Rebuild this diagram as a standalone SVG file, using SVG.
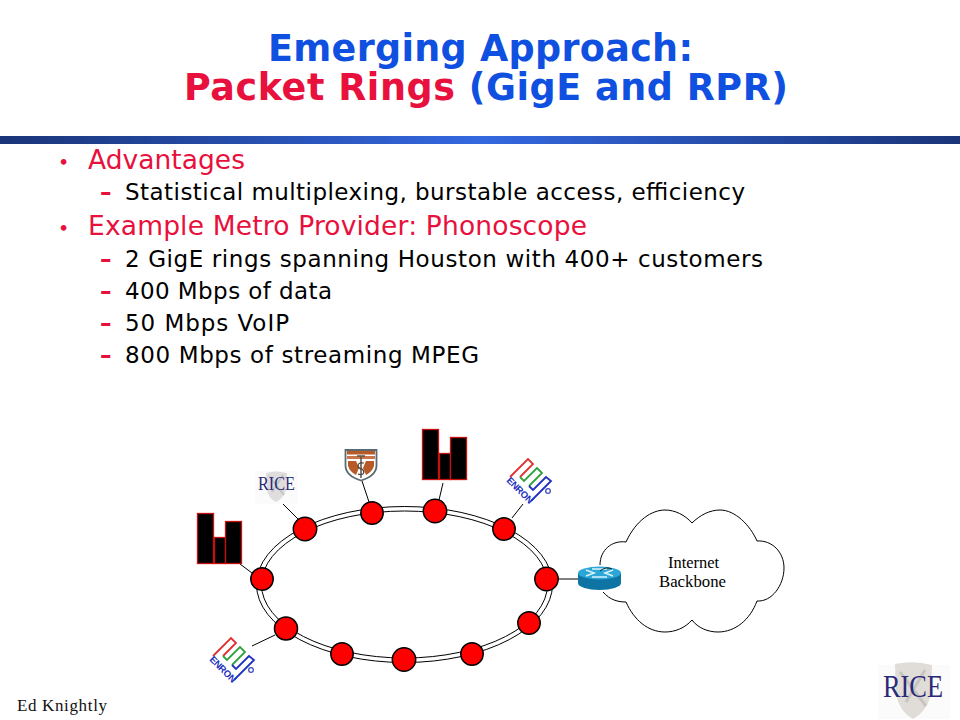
<svg xmlns="http://www.w3.org/2000/svg" xmlns:xlink="http://www.w3.org/1999/xlink" width="960" height="720" viewBox="0 0 960 720">
<style>
.t{font-family:"DejaVu Sans",Verdana,sans-serif}
.title{font-size:36.500px;font-weight:bold;fill:#1050e0}
.red{fill:#e8103c}
.h{font-size:26.500px;fill:#e8103c}
.s{font-size:23px;fill:#000}
.d{font-size:23px;font-weight:bold;fill:#e8103c}
.b{font-size:16px;font-weight:bold;fill:#e8103c}
.n{fill:#f00;stroke:#000;stroke-width:1.5}
.l{fill:none;stroke:#000;stroke-width:1}
.bd{fill:#000;stroke:#c81010;stroke-width:1.3}
.rice{font-family:"Liberation Serif",serif;fill:#2a2a78}
.cl{font-family:"Liberation Serif",serif;font-size:16px;fill:#000}
</style>
<defs>
<linearGradient id="bar" x1="0" x2="1" y1="0" y2="0">
<stop offset="0" stop-color="#1a3478"/><stop offset="0.5" stop-color="#3468e0"/><stop offset="1" stop-color="#1a3478"/>
</linearGradient>
<g id="bld">
<rect class="bd" x="0" y="0" width="16" height="50"/>
<rect class="bd" x="17" y="24" width="11" height="26"/>
<rect class="bd" x="28" y="8" width="16" height="42"/>
</g>
<g id="enron">
<polyline fill="none" stroke="#e03030" stroke-width="1.800" points="510,477 528,459 533,464 520,477"/>
<polyline fill="none" stroke="#30a040" stroke-width="1.800" points="520,477 524,481 537,468 542,473 529,486"/>
<polyline fill="none" stroke="#2030c0" stroke-width="1.800" points="529,486 533,490 546,477 551,481 531,501"/>
<text x="506" y="481" transform="rotate(45 506 481)" font-family="Liberation Sans,sans-serif" font-size="9.500" font-weight="bold" fill="#2030c0" textLength="33" lengthAdjust="spacing">ENRON</text>
<circle cx="548" cy="491" r="2.300" fill="none" stroke="#4050c0" stroke-width="1.300"/>
</g>
</defs>

<rect width="960" height="720" fill="#fff"/>
<g id="title" class="t">
<text class="title" x="268" y="61" textLength="425" lengthAdjust="spacing">Emerging Approach:</text>
<text class="title" x="184" y="100" textLength="604" lengthAdjust="spacing"><tspan class="red">Packet Rings</tspan> (GigE and RPR)</text>
</g>
<rect id="rule" x="0" y="136" width="960" height="8" fill="url(#bar)"/>
<g id="body" class="t">
<text class="b" x="58.500" y="168">•</text>
<text class="h" x="88" y="169" textLength="157" lengthAdjust="spacing">Advantages</text>
<text class="d" x="100" y="200">–</text>
<text class="s" x="125" y="200" textLength="620" lengthAdjust="spacing">Statistical multiplexing, burstable access, efficiency</text>
<text class="b" x="58.500" y="234">•</text>
<text class="h" x="88" y="235" textLength="499" lengthAdjust="spacing">Example Metro Provider: Phonoscope</text>
<text class="d" x="100" y="267">–</text>
<text class="s" x="125" y="267" textLength="638" lengthAdjust="spacing">2 GigE rings spanning Houston with 400+ customers</text>
<text class="d" x="100" y="299">–</text>
<text class="s" x="125" y="299" textLength="207" lengthAdjust="spacing">400 Mbps of data</text>
<text class="d" x="100" y="331">–</text>
<text class="s" x="125" y="331" textLength="164" lengthAdjust="spacing">50 Mbps VoIP</text>
<text class="d" x="100" y="363">–</text>
<text class="s" x="125" y="363" textLength="354" lengthAdjust="spacing">800 Mbps of streaming MPEG</text>
</g>

<g id="connectors">
<ellipse class="l" cx="404.500" cy="584.500" rx="148" ry="78"/>
<ellipse class="l" cx="404.500" cy="584.500" rx="143" ry="73.500"/>
<line class="l" x1="282" y1="503" x2="298" y2="519"/>
<line class="l" x1="362" y1="481" x2="369" y2="502"/>
<line class="l" x1="443" y1="483" x2="439" y2="500"/>
<line class="l" x1="523" y1="504" x2="512" y2="518"/>
<line class="l" x1="559" y1="579" x2="578" y2="579"/>
<line class="l" x1="240" y1="564" x2="252" y2="573"/>
<line class="l" x1="252" y1="646" x2="275" y2="635"/>
</g>

<g id="ring-nodes">
<circle id="n1" class="n" cx="305" cy="529" r="11.700"/>
<circle id="n2" class="n" cx="372" cy="513" r="11.200"/>
<circle id="n3" class="n" cx="435" cy="511" r="11.700"/>
<circle id="n4" class="n" cx="504" cy="529" r="11.200"/>
<circle id="n5" class="n" cx="546.500" cy="579" r="11.700"/>
<circle id="n6" class="n" cx="529" cy="623" r="11.200"/>
<circle id="n7" class="n" cx="472" cy="654" r="11.200"/>
<circle id="n8" class="n" cx="404" cy="659.500" r="11.700"/>
<circle id="n9" class="n" cx="342" cy="654" r="11.200"/>
<circle id="n10" class="n" cx="286" cy="628.500" r="11.500"/>
<circle id="n11" class="n" cx="262" cy="579" r="11.200"/>
</g>

<g id="building-left"><use xlink:href="#bld" href="#bld" x="197.500" y="513.500"/></g>
<g id="building-top"><use xlink:href="#bld" href="#bld" x="422.500" y="429.500"/></g>
<g id="enron-top"><use xlink:href="#enron" href="#enron"/></g>
<g id="enron-bottom"><use xlink:href="#enron" href="#enron" x="-297" y="179"/></g>

<g id="rice-small">
<rect x="255" y="471" width="43" height="33" fill="#fcfbfc"/>
<path d="M266 473Q276 470 287 473L286 490Q283 499 276 502Q269 499 267 490Z" fill="#dfddde"/>
<path d="M269 476L284 495M283 475L272 492" stroke="#c4c2c2" stroke-width="2" fill="none"/>
<text class="rice" x="258" y="490" font-size="18.500" textLength="37" lengthAdjust="spacingAndGlyphs">RICE</text>
</g>

<g id="shield">
<path d="M345.500 450V466Q346 476 361 480.500Q376 476 376.500 466V450Z" fill="#fff" stroke="#5a6a72" stroke-width="1.800"/>
<rect x="347" y="451" width="28" height="3.500" fill="#b85a28"/>
<rect x="347" y="456" width="28" height="3" fill="#c8764a"/>
<path d="M348 461L356 461L359 468L356 475Q350 472 348 466Z" fill="#b85a28"/>
<path d="M374 461L366 461L363 468L366 475Q372 472 374 466Z" fill="#b85a28"/>
<path d="M361 457V478" stroke="#5a5048" stroke-width="1.500" fill="none"/>
<path d="M357 456H365" stroke="#5a5048" stroke-width="1.500" fill="none"/>
<path d="M364 463Q358 462 358 466Q359 469 362 469Q365 471 363 474Q360 475 358 474" stroke="#4a4038" stroke-width="1.200" fill="none"/>
</g>

<g id="cloud">
<path class="l" d="M600 565C600 550 612 540 626 542C636 520 652 510 665 510C675 510 685 515 692 523C700 515 710 510 720 510C735 510 750 525 757 541C772 540 784 552 784 568C784 585 772 602 757 601C750 620 735 632 718 632C708 632 698 628 692 620C685 628 675 632 665 632C648 632 634 620 626 602C618 602 610 600 603 592" fill="#fff"/>
<text class="cl" x="668" y="568" textLength="51" lengthAdjust="spacingAndGlyphs">Internet</text>
<text class="cl" x="659" y="587" textLength="67" lengthAdjust="spacingAndGlyphs">Backbone</text>
</g>

<g id="router">
<path d="M578 573V583A21.500 7 0 0 0 621 583V573Z" fill="#0d74a4"/>
<ellipse cx="599.500" cy="573" rx="21.500" ry="6.500" fill="#2ba6d6"/>
<path d="M586 570L594 573L586 576M613 570L605 573L613 576M592 569H607M592 577H607" fill="none" stroke="#d8f2fa" stroke-width="1.600"/>
<path d="M600 571Q606 566 612 569" fill="none" stroke="#000" stroke-width="0.800"/>
</g>

<g id="rice-logo">
<rect x="878" y="665" width="72" height="54" fill="#fcfbfc"/>
<path d="M895 664Q914 660 932 665L931 695Q926 712 913 719Q900 712 896 695Z" fill="#e0ddd8"/>
<path d="M900 672L926 706M925 670L906 702" stroke="#c8c5c0" stroke-width="3" fill="none"/>
<text class="rice" x="883" y="697" font-size="31" textLength="60" lengthAdjust="spacingAndGlyphs">RICE</text>
</g>

<text id="footer" x="17" y="711" font-family="Liberation Serif,serif" font-size="17" fill="#111" textLength="90" lengthAdjust="spacing">Ed Knightly</text>
</svg>
